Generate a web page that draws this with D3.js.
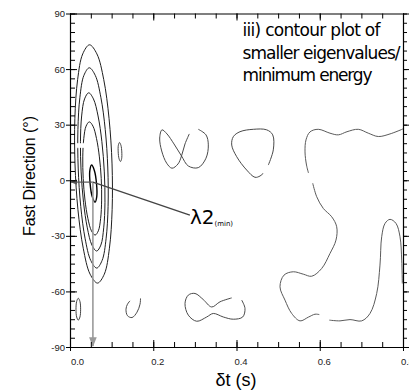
<!DOCTYPE html>
<html>
<head>
<meta charset="utf-8">
<script src="https://cdn.jsdelivr.net/npm/d3@7"></script>
<style>
  html, body { margin: 0; padding: 0; background: #fff; }
  svg { display: block; }
</style>
</head>
<body>
<svg id="chart" width="409" height="392"></svg>
<script>
// ---- axes ----
const delayDomain = [0, 0.8];
const fastDomain = [-90, 90];
const delayTicks = [0, 0.2, 0.4, 0.6, 0.8];
const delayTickLabels = ["0.0", "0.2", "0.4", "0.6", "0.8"];
const fastTicks = [-90, -60, -30, 0, 30, 60, 90];
const fastTickLabels = ["-90", "-60", "-30", "0", "30", "60", "90"];

// ---- closed contours of λ2, points as [δt (s), fast direction (°)] ----
const ring1 = [[0.101,8.8],[0.0938,33.4],[0.0811,54.3],[0.0646,68.2],[0.0469,73.1],[0.0306,68.2],[0.0183,54.3],[0.0117,33.4],[0.012,8.8],[0.0191,-15.9],[0.0318,-36.7],[0.0483,-50.7],[0.0661,-55.5],[0.0824,-50.7],[0.0947,-36.7],[0.1012,-15.9]];
const ring2 = [[0.0908,6.6],[0.0847,27.3],[0.0741,44.8],[0.0607,56.6],[0.0464,60.7],[0.0334,56.6],[0.0238,44.8],[0.019,27.3],[0.0197,6.6],[0.0258,-14.1],[0.0364,-31.6],[0.0499,-43.3],[0.0642,-47.4],[0.0771,-43.3],[0.0867,-31.6],[0.0915,-14.1]];
const ring3 = [[0.0824,4.5],[0.0766,20.8],[0.0674,34.7],[0.0563,43.9],[0.0449,47.2],[0.035,43.9],[0.028,34.7],[0.0251,20.8],[0.0267,4.5],[0.0325,-11.9],[0.0416,-25.7],[0.0527,-35.0],[0.0641,-38.2],[0.0741,-35.0],[0.081,-25.7],[0.084,-11.9]];
const ring4 = [[0.075,1.0],[0.0706,12.6],[0.0637,22.5],[0.0552,29.2],[0.0464,31.5],[0.0386,29.2],[0.0331,22.5],[0.0307,12.6],[0.0317,1.0],[0.036,-10.7],[0.043,-20.6],[0.0515,-27.3],[0.0603,-29.6],[0.0681,-27.3],[0.0736,-20.6],[0.076,-10.7]];
const ring5 = [[0.0637,-1.8],[0.0585,5.3],[0.0519,8.2],[0.0477,5.3],[0.0483,-1.8],[0.0534,-8.8],[0.0601,-11.8],[0.0643,-8.8]];
const islandUpper = [[0.1244,15.3],[0.1223,18.9],[0.1189,20.4],[0.1162,18.9],[0.1158,15.3],[0.1179,11.6],[0.1213,10.1],[0.124,11.6]];
const islandLower = [[0.0255,-69.6],[0.0239,-65.4],[0.0199,-63.7],[0.016,-65.4],[0.0144,-69.6],[0.016,-73.8],[0.0199,-75.5],[0.0239,-73.8]];

// ---- open contour segments ----
const hook = [[0.1441,-65.1],[0.1381,-66.9],[0.1345,-69.6],[0.1381,-73.1],[0.149,-74.1],[0.161,-71.2],[0.1682,-66.9],[0.1694,-63.8]];
const bow = [[0.3082,27.5],[0.3267,24.5],[0.3323,19.1],[0.3267,11.9],[0.3082,6.8],[0.2842,7.7],[0.2679,13.1],[0.2498,19.6],[0.233,25.0],[0.221,27.2],[0.2155,22.8],[0.2203,15.8],[0.2323,9.2],[0.245,6.5],[0.2595,8.8],[0.2679,13.1],[0.2763,19.6],[0.2866,25.0]];
const loopTop = [[0.4764,8.2],[0.4884,16.4],[0.487,24.5],[0.4726,27.2],[0.4404,27.5],[0.4084,26.2],[0.3923,23.5],[0.3885,19.0],[0.4005,12.7],[0.4245,5.5],[0.4444,1.6],[0.4565,2.3],[0.4644,3.8]];
const peanut = [[0.3885,-63.5],[0.3604,-65.6],[0.3404,-68.4],[0.3202,-64.4],[0.3003,-61.1],[0.2842,-62.0],[0.2763,-66.5],[0.2842,-72.8],[0.3044,-76.1],[0.3284,-73.8],[0.3443,-71.9],[0.3683,-73.8],[0.3923,-75.0],[0.4149,-73.8],[0.4204,-69.2],[0.4125,-64.7]];
const ridgeUpper = [[0.8,27.7],[0.7688,25.0],[0.7407,23.6],[0.7167,25.4],[0.6926,27.5],[0.6655,26.2],[0.6446,24.5],[0.6246,25.4],[0.5965,27.5],[0.5766,26.1],[0.567,21.8],[0.5646,15.3],[0.5682,8.2],[0.573,3.9]];
const ridgeMiddle = [[0.5831,-1.6],[0.5927,-8.9],[0.6085,-15.2],[0.6287,-19.7],[0.6407,-25.1],[0.639,-32.3],[0.6246,-39.5],[0.6047,-47.6],[0.5807,-51.8],[0.5605,-50.7],[0.5365,-49.4],[0.5141,-51.2],[0.5045,-57.5],[0.5165,-64.7],[0.5326,-71.9],[0.5526,-75.9],[0.5725,-73.9],[0.5886,-72.3],[0.5989,-72.5]];
const ridgeLower = [[0.6229,-75.5],[0.6486,-75.9],[0.6727,-75.2],[0.7008,-75.9],[0.7207,-71.9],[0.7368,-61.1],[0.7447,-45.8],[0.7488,-30.5],[0.7568,-23.3],[0.7688,-21.1],[0.7832,-23.3],[0.7928,-30.5],[0.7969,-43.1],[0.7983,-55.7]];

// break left open in the nested rings where contour labels sit: [δt from, δt to, φ from, φ to]
const labelBreak = [0.016, 0.043, 17.5, 20];

// ---- λ2 minimum and its label ----
const minimum = [0.055, -1];
const labelAnchor = [0.288, -18.8];
const noteLines = ["iii) contour plot of", "smaller eigenvalues/", "minimum energy"];

const svg = d3.select("#chart");
const x = d3.scaleLinear(delayDomain, [70, 403]);
const y = d3.scaleLinear(fastDomain, [347, 13.5]);

const defs = svg.append("defs");
defs.append("clipPath").attr("id", "plot-clip")
  .append("rect").attr("x", 70).attr("y", 13.5).attr("width", 333).attr("height", 333.5);
function arrowMarker(id, color) {
  defs.append("marker").attr("id", id)
    .attr("viewBox", "0 0 10 10").attr("refX", 9).attr("refY", 5)
    .attr("markerWidth", 6).attr("markerHeight", 6).attr("orient", "auto")
    .append("path").attr("d", "M0,1 L10,5 L0,9 Z").attr("fill", color);
}
arrowMarker("head-dark", "#555");
arrowMarker("head-light", "#9a9a9a");

const plot = svg.append("g").attr("clip-path", "url(#plot-clip)");

const closedLine = d3.line().x(d => x(d[0])).y(d => y(d[1])).curve(d3.curveCatmullRomClosed.alpha(0.5));
const openLine = d3.line().x(d => x(d[0])).y(d => y(d[1])).curve(d3.curveCatmullRom.alpha(0.5));

// main well around the minimum
[ring1, ring2, ring3, ring4].forEach(r => {
  plot.append("path").attr("d", closedLine(r)).attr("fill", "none")
    .attr("stroke", "#1e1e1e").attr("stroke-width", 1);
});
plot.append("rect")
  .attr("x", x(labelBreak[0])).attr("width", x(labelBreak[1]) - x(labelBreak[0]))
  .attr("y", y(labelBreak[3])).attr("height", y(labelBreak[2]) - y(labelBreak[3]))
  .attr("fill", "#fff");
plot.append("path").attr("d", closedLine(ring5)).attr("fill", "none")
  .attr("stroke", "#000").attr("stroke-width", 1.4);

// small closed islands
[islandUpper, islandLower].forEach(r => {
  plot.append("path").attr("d", closedLine(r)).attr("fill", "none")
    .attr("stroke", "#444").attr("stroke-width", 1);
});

// open segments
[hook, bow, loopTop, peanut].forEach(s => {
  plot.append("path").attr("d", openLine(s)).attr("fill", "none")
    .attr("stroke", "#4a4a4a").attr("stroke-width", 1);
});
[ridgeUpper, ridgeMiddle, ridgeLower].forEach(s => {
  plot.append("path").attr("d", openLine(s)).attr("fill", "none")
    .attr("stroke", "#5a5a5a").attr("stroke-width", 1);
});

// arrows from the minimum to both axes
svg.append("line")
  .attr("x1", x(minimum[0])).attr("y1", y(minimum[1]))
  .attr("x2", x(delayDomain[0]) + 1).attr("y2", y(minimum[1]))
  .attr("stroke", "#555").attr("stroke-width", 1.2)
  .attr("marker-end", "url(#head-dark)");
svg.append("line")
  .attr("x1", x(minimum[0])).attr("y1", y(minimum[1]))
  .attr("x2", x(minimum[0])).attr("y2", y(fastDomain[0]) - 1)
  .attr("stroke", "#9a9a9a").attr("stroke-width", 1.6)
  .attr("marker-end", "url(#head-light)");
svg.append("line")
  .attr("x1", x(minimum[0])).attr("y1", y(minimum[1]))
  .attr("x2", x(labelAnchor[0])).attr("y2", y(labelAnchor[1]))
  .attr("stroke", "#444").attr("stroke-width", 1.3);

const lab = svg.append("text")
  .attr("x", x(labelAnchor[0])).attr("y", y(labelAnchor[1]) + 9)
  .attr("font-family", "'DejaVu Sans', sans-serif").attr("fill", "#000");
lab.append("tspan").attr("font-size", 20).text("λ2");
lab.append("tspan").attr("font-size", 7).attr("dy", 2).text("(min)");

// ---- axes ----
const font = "'Liberation Sans', Arial, sans-serif";
const minorX = d3.range(0, 0.8001, 0.05);
const minorY = d3.range(-90, 90.001, 5);

const axisB = svg.append("g").attr("transform", "translate(0,347)");
axisB.call(d3.axisBottom(x).tickValues(delayTicks).tickFormat((d, i) => delayTickLabels[i])
  .tickSizeInner(4).tickSizeOuter(0).tickPadding(7));
axisB.call(g => g.selectAll(".tick text").attr("dx", (d, i) => i === 0 ? 7 : 4));
axisB.append("g").call(d3.axisBottom(x).tickValues(minorX).tickFormat("").tickSizeInner(-5).tickSizeOuter(0))
  .call(g => g.select(".domain").remove());
axisB.append("g").call(d3.axisBottom(x).tickValues(delayTicks).tickFormat("").tickSizeInner(-7).tickSizeOuter(0))
  .call(g => g.select(".domain").remove());

const axisL = svg.append("g").attr("transform", "translate(70,0)");
axisL.call(d3.axisLeft(y).tickValues(fastTicks).tickFormat((d, i) => fastTickLabels[i])
  .tickSizeInner(4).tickSizeOuter(0).tickPadding(1));
axisL.append("g").call(d3.axisLeft(y).tickValues(minorY).tickFormat("").tickSizeInner(-5).tickSizeOuter(0))
  .call(g => g.select(".domain").remove());
axisL.append("g").call(d3.axisLeft(y).tickValues(fastTicks).tickFormat("").tickSizeInner(-7).tickSizeOuter(0))
  .call(g => g.select(".domain").remove());

const axisT = svg.append("g").attr("transform", "translate(0,13.5)");
axisT.call(d3.axisTop(x).tickValues(minorX).tickFormat("").tickSizeInner(-5).tickSizeOuter(0));
axisT.append("g").call(d3.axisTop(x).tickValues(delayTicks).tickFormat("").tickSizeInner(-7).tickSizeOuter(0))
  .call(g => g.select(".domain").remove());

const axisR = svg.append("g").attr("transform", "translate(403,0)");
axisR.call(d3.axisRight(y).tickValues(minorY).tickFormat("").tickSizeInner(4).tickSizeOuter(0));
axisR.append("g").call(d3.axisRight(y).tickValues(fastTicks).tickFormat("").tickSizeInner(7).tickSizeOuter(0))
  .call(g => g.select(".domain").remove());

svg.selectAll(".domain").attr("stroke", "#000").attr("stroke-width", 1.2);
svg.selectAll(".tick line").attr("stroke", "#000");
svg.selectAll(".tick text").attr("font-family", font).attr("font-size", 9.5).attr("fill", "#222");

// axis titles
svg.append("text").attr("x", 236).attr("y", 386).attr("text-anchor", "middle")
  .attr("font-family", font).attr("font-size", 18).text("δt (s)");
svg.append("text").attr("transform", "translate(35,176) rotate(-90)").attr("text-anchor", "middle")
  .attr("font-family", font).attr("font-size", 16).text("Fast Direction (°)");

// panel note
const noteWidths = [138, 158, 130];
noteLines.forEach((t, i) => {
  svg.append("text").attr("x", 242.5).attr("y", 36 + i * 22.5)
    .attr("font-family", "'DejaVu Sans', sans-serif").attr("font-size", 17)
    .attr("textLength", noteWidths[i]).attr("lengthAdjust", "spacing")
    .attr("fill", "#000").text(t);
});
</script>
</body>
</html>
